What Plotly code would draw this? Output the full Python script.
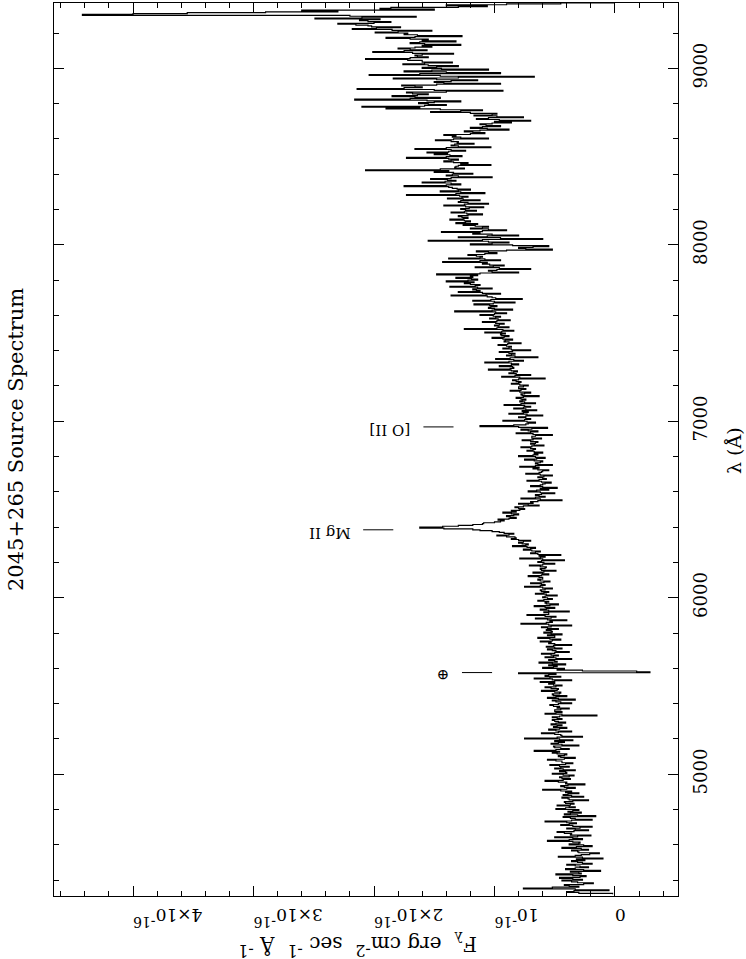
import plotly.graph_objects as go

# ---------------- data (flux in units of 1e-16 erg cm^-2 s^-1 A^-1) ----------------
WAVE_START = 4320   # Angstrom, first bin
WAVE_STEP = 5       # Angstrom per bin

flux = [
    0.02, 0.30, 0.40, 0.34, 0.05, 0.33, 0.76, 0.52, 0.30, 0.38, 0.42, 0.26, 0.18, 0.31, 0.36, 0.44, 0.27, 0.35, 0.46, 0.29,  # 4320
    0.24, 0.35, 0.49, 0.28, 0.30, 0.37, 0.12, 0.26, 0.41, 0.33, 0.22, 0.29, 0.33, 0.40, 0.19, 0.27, 0.31, 0.36, 0.25, 0.32,  # 4420
    0.10, 0.27, 0.47, 0.33, 0.28, 0.21, 0.13, 0.30, 0.31, 0.36, 0.22, 0.28, 0.44, 0.32, 0.19, 0.26, 0.38, 0.30, 0.29, 0.35,  # 4520
    0.56, 0.38, 0.27, 0.35, 0.50, 0.31, 0.20, 0.37, 0.36, 0.42, 0.48, 0.34, 0.22, 0.33, 0.40, 0.29, 0.19, 0.35, 0.45, 0.38,  # 4620
    0.32, 0.40, 0.58, 0.36, 0.19, 0.33, 0.37, 0.43, 0.16, 0.31, 0.42, 0.37, 0.28, 0.39, 0.35, 0.30, 0.49, 0.41, 0.33, 0.38,  # 4720
    0.48, 0.37, 0.34, 0.41, 0.42, 0.35, 0.22, 0.38, 0.39, 0.44, 0.26, 0.36, 0.43, 0.39, 0.30, 0.41, 0.36, 0.45, 0.60, 0.40,  # 4820
    0.33, 0.42, 0.45, 0.39, 0.25, 0.41, 0.40, 0.47, 0.58, 0.43, 0.37, 0.44, 0.46, 0.38, 0.34, 0.43, 0.52, 0.40, 0.41, 0.46,  # 4920
    0.33, 0.43, 0.50, 0.45, 0.38, 0.46, 0.54, 0.41, 0.35, 0.44, 0.44, 0.49, 0.56, 0.42, 0.33, 0.45, 0.47, 0.42, 0.40, 0.48,  # 5020
    0.52, 0.46, 0.67, 0.49, 0.38, 0.45, 0.50, 0.51, 0.30, 0.44, 0.53, 0.47, 0.42, 0.50, 0.35, 0.46, 0.75, 0.48, 0.27, 0.44,  # 5120
    0.45, 0.50, 0.61, 0.47, 0.36, 0.49, 0.55, 0.46, 0.40, 0.51, 0.48, 0.44, 0.53, 0.49, 0.41, 0.47, 0.50, 0.52, 0.44, 0.48,  # 5220
    0.52, 0.46, 0.15, 0.44, 0.58, 0.49, 0.44, 0.50, 0.50, 0.45, 0.38, 0.48, 0.46, 0.51, 0.54, 0.47, 0.36, 0.45, 0.49, 0.52,  # 5320
    0.33, 0.47, 0.56, 0.49, 0.40, 0.51, 0.52, 0.46, 0.45, 0.50, 0.61, 0.48, 0.47, 0.53, 0.58, 0.49, 0.44, 0.51, 0.55, 0.50,  # 5420
    0.62, 0.50, 0.36, 0.52, 0.67, 0.54, 0.45, 0.58, 0.55, 0.49, 0.80, -0.29, -0.18, 0.27, 0.48, 0.42, 0.60, 0.51, 0.48, 0.55,  # 5520
    0.41, 0.52, 0.63, 0.48, 0.50, 0.55, 0.36, 0.49, 0.58, 0.51, 0.47, 0.53, 0.61, 0.50, 0.38, 0.49, 0.52, 0.56, 0.44, 0.50,  # 5620
    0.57, 0.51, 0.36, 0.50, 0.55, 0.53, 0.62, 0.52, 0.45, 0.54, 0.64, 0.50, 0.50, 0.56, 0.44, 0.53, 0.59, 0.52, 0.53, 0.57,  # 5720
    0.47, 0.56, 0.61, 0.53, 0.36, 0.55, 0.78, 0.57, 0.52, 0.54, 0.40, 0.56, 0.66, 0.53, 0.49, 0.58, 0.73, 0.55, 0.55, 0.59,  # 5820
    0.38, 0.55, 0.62, 0.57, 0.50, 0.58, 0.67, 0.54, 0.47, 0.57, 0.58, 0.55, 0.64, 0.59, 0.52, 0.56, 0.60, 0.58, 0.48, 0.57,  # 5920
    0.66, 0.59, 0.55, 0.61, 0.62, 0.58, 0.52, 0.60, 0.75, 0.62, 0.58, 0.61, 0.70, 0.59, 0.54, 0.62, 0.64, 0.60, 0.60, 0.63,  # 6020
    0.72, 0.61, 0.55, 0.60, 0.68, 0.59, 0.49, 0.61, 0.62, 0.58, 0.57, 0.62, 0.71, 0.60, 0.50, 0.59, 0.64, 0.61, 0.42, 0.60,  # 6120
    0.79, 0.62, 0.58, 0.63, 0.45, 0.64, 0.70, 0.66, 0.62, 0.69, 0.76, 0.70, 0.66, 0.73, 0.85, 0.74, 0.72, 0.77, 0.80, 0.76,  # 6220
    0.70, 0.80, 0.86, 0.82, 0.83, 0.90, 0.98, 0.88, 0.84, 0.92, 0.96, 1.02, 1.12, 1.18, 1.42, 1.62, 1.43, 1.30, 1.18, 1.10,  # 6320
    1.09, 1.00, 0.95, 0.92, 0.97, 0.88, 0.82, 0.87, 0.90, 0.84, 0.80, 0.86, 0.93, 0.82, 0.86, 0.79, 0.75, 0.80, 0.83, 0.76,  # 6420
    0.63, 0.72, 0.80, 0.68, 0.70, 0.64, 0.44, 0.62, 0.78, 0.66, 0.58, 0.63, 0.66, 0.61, 0.50, 0.62, 0.72, 0.65, 0.55, 0.62,  # 6520
    0.48, 0.60, 0.70, 0.62, 0.60, 0.58, 0.53, 0.61, 0.73, 0.63, 0.57, 0.60, 0.64, 0.59, 0.52, 0.62, 0.74, 0.63, 0.61, 0.60,  # 6620
    0.55, 0.64, 0.68, 0.63, 0.79, 0.66, 0.52, 0.64, 0.66, 0.62, 0.60, 0.67, 0.75, 0.65, 0.58, 0.66, 0.80, 0.68, 0.64, 0.67,  # 6720
    0.60, 0.67, 0.73, 0.68, 0.66, 0.70, 0.78, 0.69, 0.59, 0.67, 0.70, 0.66, 0.64, 0.70, 0.77, 0.68, 0.61, 0.69, 0.69, 0.66,  # 6820
    0.52, 0.68, 0.82, 0.70, 0.64, 0.72, 0.78, 0.69, 0.56, 0.80, 1.12, 0.84, 0.74, 0.72, 0.66, 0.73, 0.93, 0.75, 0.70, 0.74,  # 6920
    0.80, 0.74, 0.60, 0.73, 0.88, 0.76, 0.72, 0.77, 0.65, 0.74, 0.84, 0.76, 0.70, 0.75, 0.92, 0.78, 0.66, 0.75, 0.79, 0.77,  # 7020
    0.74, 0.78, 0.82, 0.76, 0.63, 0.77, 0.78, 0.75, 0.70, 0.79, 0.87, 0.78, 0.74, 0.80, 0.80, 0.76, 0.72, 0.79, 0.86, 0.80,  # 7120
    0.78, 0.82, 0.85, 0.80, 0.58, 0.79, 0.94, 0.83, 0.70, 0.82, 0.88, 0.84, 0.81, 0.86, 1.05, 0.87, 0.84, 0.85, 0.96, 0.86,  # 7220
    0.80, 0.86, 1.08, 0.88, 0.76, 0.84, 0.99, 0.87, 0.64, 0.83, 0.90, 0.86, 0.83, 0.88, 0.96, 0.85, 0.70, 0.86, 0.93, 0.88,  # 7320
    0.86, 0.90, 0.97, 0.89, 0.78, 0.88, 0.92, 0.91, 0.85, 0.93, 1.02, 0.92, 0.88, 0.94, 0.95, 0.91, 1.08, 0.94, 0.84, 0.93,  # 7420
    1.25, 0.98, 0.88, 0.97, 1.00, 0.96, 0.92, 0.99, 1.10, 0.98, 0.87, 0.97, 1.04, 0.99, 0.95, 1.01, 1.12, 1.00, 0.90, 0.99,  # 7520
    1.33, 1.02, 0.85, 1.00, 1.05, 1.03, 0.98, 1.04, 1.17, 1.01, 0.83, 1.00, 1.18, 1.03, 0.77, 0.99, 1.02, 1.06, 1.36, 1.07,  # 7620
    0.95, 1.10, 1.30, 1.12, 1.15, 1.18, 1.02, 1.14, 1.37, 1.16, 1.12, 1.20, 1.25, 1.17, 1.40, 1.22, 1.14, 1.19, 1.32, 1.18,  # 7720
    1.20, 1.14, 1.48, 1.12, 0.80, 1.02, 1.05, 0.98, 0.70, 0.96, 1.16, 1.01, 0.92, 1.04, 1.10, 1.06, 1.43, 1.12, 0.95, 1.08,  # 7820
    1.38, 1.12, 1.10, 1.15, 1.22, 1.08, 0.98, 1.05, 1.15, 0.90, 0.52, 0.74, 0.80, 0.68, 0.55, 0.85, 1.20, 1.02, 0.88, 1.05,  # 7920
    1.55, 1.10, 0.60, 0.95, 1.30, 1.06, 0.80, 1.02, 1.18, 1.12, 1.44, 1.10, 0.90, 1.05, 1.20, 1.10, 1.05, 1.16, 1.26, 1.14,  # 8020
    1.32, 1.24, 1.20, 1.25, 1.37, 1.26, 1.22, 1.27, 1.30, 1.22, 1.10, 1.23, 1.36, 1.25, 1.15, 1.24, 1.28, 1.21, 1.09, 1.24,  # 8120
    1.42, 1.25, 1.05, 1.22, 1.30, 1.28, 1.12, 1.26, 1.39, 1.27, 1.22, 1.29, 1.73, 1.32, 1.08, 1.28, 1.45, 1.30, 1.20, 1.31,  # 8220
    1.35, 1.38, 1.75, 1.40, 1.28, 1.36, 1.60, 1.41, 1.32, 1.39, 1.53, 1.36, 1.02, 1.30, 1.40, 1.35, 1.18, 1.34, 1.50, 1.38,  # 8320
    2.07, 1.45, 1.25, 1.33, 1.32, 1.30, 1.03, 1.28, 1.22, 1.34, 1.42, 1.36, 1.30, 1.38, 1.73, 1.40, 1.27, 1.37, 1.50, 1.39,  # 8420
    1.56, 1.38, 1.24, 1.36, 1.66, 1.40, 1.03, 1.30, 1.36, 1.33, 1.17, 1.31, 1.30, 1.36, 1.49, 1.34, 1.05, 1.28, 1.35, 1.32,  # 8520
    1.42, 1.20, 1.08, 1.18, 1.25, 1.12, 0.88, 1.06, 1.20, 1.10, 0.95, 1.07, 1.12, 1.02, 0.86, 1.00, 0.70, 0.96, 1.15, 1.05,  # 8620
    0.76, 0.98, 1.17, 1.02, 0.98, 1.20, 1.53, 1.28, 1.10, 1.45, 1.90, 1.62, 2.10, 1.58, 1.40, 1.55, 1.63, 1.50, 1.28, 1.56,  # 8720
    2.16, 1.70, 1.45, 1.66, 1.85, 1.64, 1.55, 1.68, 1.73, 1.40, 0.93, 1.50, 2.14, 1.75, 1.60, 1.66, 1.77, 1.48, 0.95, 1.42,  # 8820
    1.50, 1.36, 1.14, 1.48, 1.84, 1.30, 0.67, 1.45, 2.04, 1.62, 0.95, 1.40, 1.75, 1.52, 1.05, 1.44, 1.60, 1.48, 1.30, 1.55,  # 8920
    1.76, 1.58, 1.35, 1.60, 1.60, 1.72, 2.07, 1.70, 1.55, 1.64, 1.66, 1.60, 1.34, 1.68, 2.01, 1.75, 1.56, 1.70, 1.80, 1.66,  # 9020
    1.52, 1.60, 1.28, 1.58, 1.70, 1.62, 1.32, 1.60, 1.55, 1.70, 1.90, 1.66, 1.27, 1.64, 1.75, 1.72, 1.99, 1.80, 1.52, 1.85,  # 9120
    2.18, 1.98, 1.78, 2.02, 2.05, 2.15, 2.30, 2.00, 1.86, 2.05, 2.12, 1.95, 2.49, 2.10, 1.65, 2.20, 4.42, 4.00, 3.55, 2.90,  # 9220
    2.30, 2.60, 1.50, 1.95, 1.86, 1.30, 1.06, 1.40, 0.90, 0.45, 0.00,                                                        # 9320
]
wavelength = [WAVE_START + WAVE_STEP * i for i in range(len(flux))]

SUP = "<sup><span style='font-size:14px'>{}</span></sup>"
flux_tickvals = [0, 1, 2, 3, 4]
flux_ticktext = ["0", "10" + SUP.format("-16"), "2×10" + SUP.format("-16"),
                 "3×10" + SUP.format("-16"), "4×10" + SUP.format("-16")]
wave_tickvals = [5000, 6000, 7000, 8000, 9000]
wave_ticktext = ["5000", "6000", "7000", "8000", "9000"]

line_names = ["⊕", "Mg II", "[O II]"]
line_waves = [5576, 6385, 6968]

TITLE = "2045+265 Source Spectrum"
XSUP = "<sup><span style='font-size:16px'>{}</span></sup>"
XTITLE = ("F<sub>λ</sub>  erg cm" + XSUP.format("-2") + "  sec " + XSUP.format("-1")
          + "  Å " + XSUP.format("-1"))
YTITLE = "λ (Å)"

FONT = "DejaVu Serif"

# ---------------- figure ----------------
fig = go.Figure()
fig.add_trace(go.Scatter(
    x=flux, y=wavelength, mode="lines",
    line=dict(color="black", width=1.2, shape="vh"),
    hoverinfo="skip", showlegend=False,
))

# line identification marks: drawn relative to the local spectrum peak
for name, w in zip(line_names, line_waves):
    local = [f for f, lw in zip(flux, wavelength) if abs(lw - w) <= 20]
    peak = max(local)
    fig.add_shape(type="line", xref="x", yref="y",
                  x0=peak + 0.22, x1=peak + 0.47, y0=w, y1=w,
                  line=dict(color="black", width=1))
    fig.add_annotation(x=peak + 0.56, y=w, xref="x", yref="y",
                       text=name, showarrow=False, textangle=180,
                       xanchor="right", yanchor="middle", yshift=-3,
                       font=dict(family=FONT, size=15, color="black"))

L, R, T, B = 54, 68, 3, 63
W, H = 746, 959
pw, ph = W - L - R, H - T - B

def px_to_paper(px, py):
    return (px - L) / pw, (H - B - py) / ph

# title (reads bottom-to-top)
tx, ty = px_to_paper(16, 440)
fig.add_annotation(x=tx, y=ty, xref="paper", yref="paper", text=TITLE,
                   showarrow=False, textangle=-90, xanchor="center", yanchor="middle",
                   font=dict(family=FONT, size=21, color="black"))
# wavelength axis title
wx, wy = px_to_paper(734, 450)
fig.add_annotation(x=wx, y=wy, xref="paper", yref="paper", text=YTITLE,
                   showarrow=False, textangle=-90, xanchor="center", yanchor="middle",
                   font=dict(family=FONT, size=19, color="black"))
# flux axis title (upside down)
fx, fy = px_to_paper(358, 945)
fig.add_annotation(x=fx, y=fy, xref="paper", yref="paper", text=XTITLE,
                   showarrow=False, textangle=180, xanchor="center", yanchor="middle",
                   font=dict(family=FONT, size=20, color="black"))

fig.update_layout(
    width=W, height=H,
    margin=dict(l=L, r=R, t=T, b=B, pad=0),
    paper_bgcolor="white", plot_bgcolor="white",
    font=dict(family=FONT, color="black"),
    showlegend=False,
    xaxis=dict(
        range=[4.656, -0.523], autorange=False,
        showgrid=False, zeroline=False,
        showline=True, linecolor="black", linewidth=1, mirror="ticks",
        ticks="inside", ticklen=10, tickcolor="black", tickwidth=1,
        tickvals=flux_tickvals, ticktext=flux_ticktext, tickangle=180,
        tickfont=dict(family=FONT, size=17, color="black"),
        ticklabelstandoff=9,
        minor=dict(ticks="inside", ticklen=5, tickcolor="black", dtick=0.2, tick0=0,
                   showgrid=False),
    ),
    yaxis=dict(
        range=[4310, 9370], autorange=False, side="right",
        showgrid=False, zeroline=False,
        showline=True, linecolor="black", linewidth=1, mirror="ticks",
        ticks="inside", ticklen=10, tickcolor="black", tickwidth=1,
        tickvals=wave_tickvals, ticktext=wave_ticktext, tickangle=-90,
        tickfont=dict(family=FONT, size=18, color="black"),
        ticklabelstandoff=6,
        minor=dict(ticks="inside", ticklen=5, tickcolor="black", dtick=200, tick0=0,
                   showgrid=False),
    ),
)

fig.write_html("out.html", config={"displayModeBar": False, "staticPlot": True},
               post_script="document.body.style.margin='0px';")
